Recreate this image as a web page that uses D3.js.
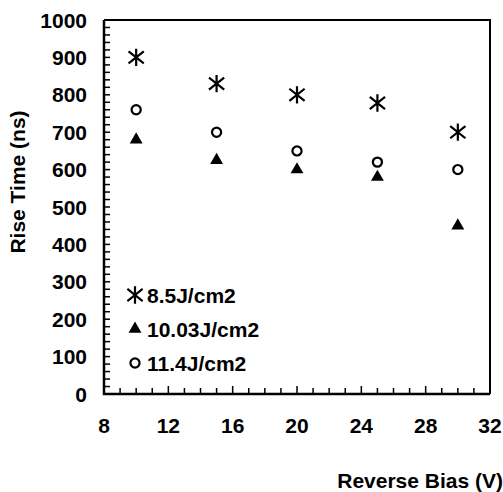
<!DOCTYPE html>
<html>
<head>
<meta charset="utf-8">
<script src="https://cdn.jsdelivr.net/npm/d3@7"></script>
<style>
  html, body { margin: 0; padding: 0; background: #fff; }
  text { font-family: "Liberation Sans", Arial, sans-serif; font-weight: bold; fill: #000; }
</style>
</head>
<body>
<svg id="chart" width="503" height="492"></svg>
<script>
// Reverse bias (V) at which rise time was measured
const bias = [10, 15, 20, 25, 30];
// Rise time (ns) for each laser fluence
const rise85 = [900, 830, 800, 778, 700];
const rise1003 = [680, 625, 600, 580, 450];
const rise114 = [760, 700, 650, 620, 600];
const seriesNames = ["8.5J/cm2", "10.03J/cm2", "11.4J/cm2"];
const xTicks = [8, 12, 16, 20, 24, 28, 32];
const yTicks = [0, 100, 200, 300, 400, 500, 600, 700, 800, 900, 1000];

const svg = d3.select("#chart");
const m = { left: 104, right: 490, top: 20, bottom: 394 };

const x = d3.scaleLinear().domain([8, 32]).range([m.left, m.right]);
const y = d3.scaleLinear().domain([0, 1000]).range([m.bottom, m.top]);

// Asterisk marker: a vertical bar crossed by an X
const asterisk = {
  draw(ctx, size) {
    const r = Math.sqrt(size) / 2;
    ctx.moveTo(0, -r); ctx.lineTo(0, r);
    const dx = r * 0.88, dy = r * 0.7;
    ctx.moveTo(-dx, -dy); ctx.lineTo(dx, dy);
    ctx.moveTo(dx, -dy); ctx.lineTo(-dx, dy);
  }
};

const styles = [
  { type: asterisk, size: 300, fill: "none", stroke: "#000", sw: 2.2 },
  { type: d3.symbolTriangle, size: 72, fill: "#000", stroke: "none", sw: 0 },
  { type: d3.symbolCircle, size: 66, fill: "none", stroke: "#000", sw: 2.2 }
];
const seriesValues = [rise85, rise1003, rise114];
const fs = 21;

// Frame: top and right borders
svg.append("path")
  .attr("d", `M${m.left},${m.top}H${m.right}V${m.bottom}`)
  .attr("fill", "none").attr("stroke", "#000").attr("stroke-width", 2);

// Y axis with inward minor ticks every 20
const yMinor = d3.range(0, 1001, 20);
svg.append("g").selectAll("line").data(yMinor).join("line")
  .attr("x1", m.left).attr("x2", m.left + 6)
  .attr("y1", d => y(d)).attr("y2", d => y(d))
  .attr("stroke", "#000").attr("stroke-width", 1.5);
svg.append("g").selectAll("text").data(yTicks).join("text")
  .attr("x", m.left - 17).attr("y", d => y(d)).attr("dy", "0.36em")
  .attr("text-anchor", "end").attr("font-size", fs)
  .text(d => d);

// X axis with inward ticks every 1, longer every 4
const xMinor = d3.range(8, 33, 1);
svg.append("g").selectAll("line").data(xMinor).join("line")
  .attr("x1", d => x(d)).attr("x2", d => x(d))
  .attr("y1", m.bottom).attr("y2", d => m.bottom - ((d % 4 === 0) ? 8 : 6))
  .attr("stroke", "#000").attr("stroke-width", 1.5);
svg.append("g").selectAll("text").data(xTicks).join("text")
  .attr("x", d => x(d)).attr("y", 433)
  .attr("text-anchor", "middle").attr("font-size", fs)
  .text(d => d);

// Axis lines
svg.append("path")
  .attr("d", `M${m.left},${m.top}V${m.bottom}H${m.right}`)
  .attr("fill", "none").attr("stroke", "#000").attr("stroke-width", 2.5);

// Data markers
seriesValues.forEach((vals, i) => {
  const s = styles[i];
  const sym = d3.symbol().type(s.type).size(s.size);
  svg.append("g").selectAll("path").data(vals).join("path")
    .attr("transform", (d, j) => `translate(${x(bias[j])},${y(d)})`)
    .attr("d", sym)
    .attr("fill", s.fill).attr("stroke", s.stroke).attr("stroke-width", s.sw);
});

// Legend
const legY = [295, 329, 363];
seriesNames.forEach((name, i) => {
  const s = styles[i];
  const g = svg.append("g").attr("transform", `translate(135,${legY[i]})`);
  g.append("path").attr("d", d3.symbol().type(s.type).size(s.size)())
    .attr("fill", s.fill).attr("stroke", s.stroke).attr("stroke-width", s.sw);
  g.append("text").attr("x", 12).attr("dy", "0.36em")
    .attr("font-size", fs).text(name);
});

// Axis titles
svg.append("text")
  .attr("x", 503).attr("y", 488)
  .attr("text-anchor", "end").attr("font-size", fs)
  .text("Reverse Bias (V)");
svg.append("text")
  .attr("transform", "translate(25,182) rotate(-90)")
  .attr("text-anchor", "middle").attr("font-size", fs)
  .text("Rise Time (ns)");
</script>
</body>
</html>
